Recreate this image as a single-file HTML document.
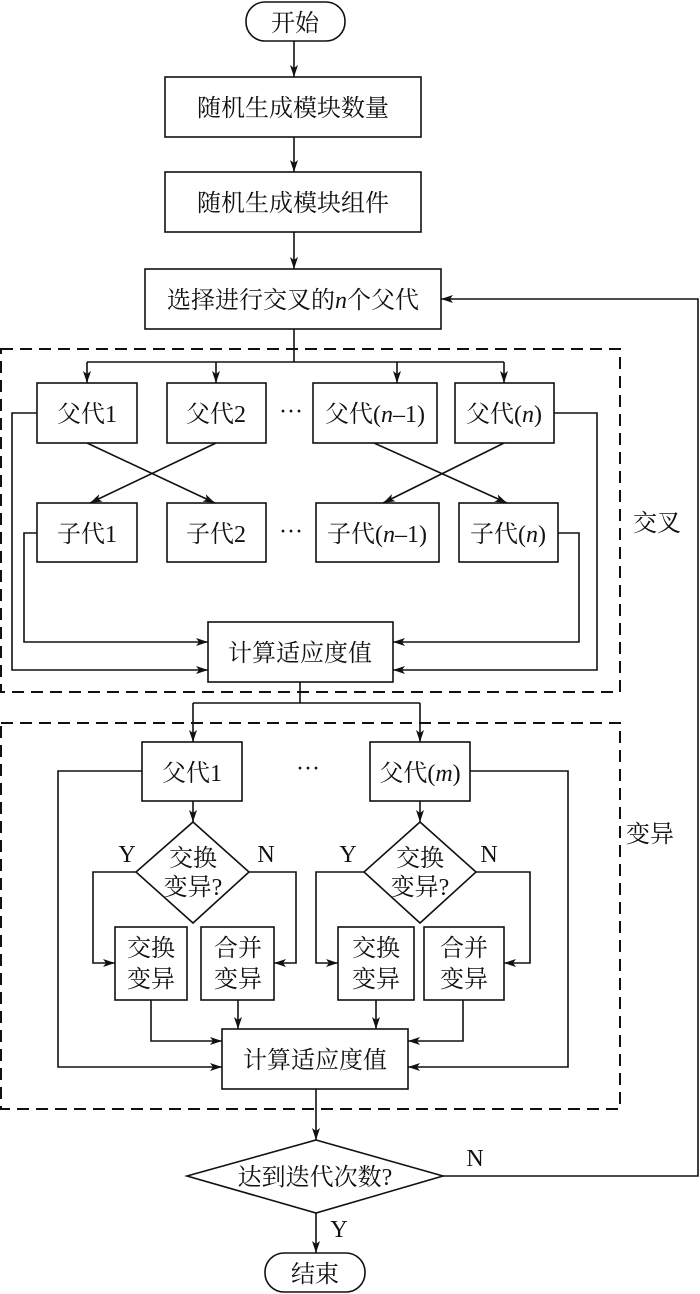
<!DOCTYPE html>
<html><head><meta charset="utf-8"><style>
html,body{margin:0;padding:0;background:#fff;}
svg{display:block;}
text{font-family:"Liberation Serif","Noto Serif CJK SC","Noto Sans CJK SC",serif;font-size:24px;fill:#111;}
</style></head><body>
<svg width="700" height="1294" viewBox="0 0 700 1294" xmlns="http://www.w3.org/2000/svg">
<defs>
<marker id="a" viewBox="0 0 12 8" refX="12" refY="4" markerWidth="12" markerHeight="8" markerUnits="userSpaceOnUse" orient="auto">
<path d="M0,0 L12,4 L0,8 L3,4 Z" fill="#111"/></marker>
</defs>
<g fill="none" stroke="#111" stroke-width="1.6">
<rect x="246" y="2" width="99" height="39" rx="19"/>
<rect x="165" y="77" width="256" height="60"/>
<rect x="165" y="172" width="256" height="60"/>
<rect x="145" y="269" width="296" height="60"/>
<path d="M294,41 V77" marker-end="url(#a)"/>
<path d="M294,137 V172" marker-end="url(#a)"/>
<path d="M294,232 V269" marker-end="url(#a)"/>
<rect x="1" y="349" width="619" height="343" stroke-dasharray="12,7" stroke-width="2"/>
<path d="M294,329 V362 M87,362 H504"/>
<path d="M87,362 V383" marker-end="url(#a)"/>
<path d="M216,362 V383" marker-end="url(#a)"/>
<path d="M397,362 V383" marker-end="url(#a)"/>
<path d="M504,362 V383" marker-end="url(#a)"/>
<rect x="37" y="383" width="100" height="60"/>
<rect x="167" y="383" width="99" height="60"/>
<rect x="313" y="383" width="124" height="60"/>
<rect x="455" y="383" width="99" height="60"/>
<rect x="37" y="503" width="100" height="59"/>
<rect x="167" y="503" width="99" height="59"/>
<rect x="316" y="503" width="123" height="59"/>
<rect x="459" y="503" width="99" height="59"/>
<path d="M87,443 L215,503" marker-end="url(#a)"/>
<path d="M216,443 L90,503" marker-end="url(#a)"/>
<path d="M374,443 L507,503" marker-end="url(#a)"/>
<path d="M504,443 L383,503" marker-end="url(#a)"/>
<rect x="208" y="622" width="185" height="60"/>
<path d="M37,413 H12 V670 H208" marker-end="url(#a)"/>
<path d="M37,533 H24 V642 H208" marker-end="url(#a)"/>
<path d="M554,413 H597 V670 H393" marker-end="url(#a)"/>
<path d="M558,533 H579 V642 H393" marker-end="url(#a)"/>
<path d="M300,682 V703 M193,703 H420"/>
<path d="M193,703 V742" marker-end="url(#a)"/>
<path d="M420,703 V742" marker-end="url(#a)"/>
<rect x="1" y="723" width="619" height="386" stroke-dasharray="12,7" stroke-width="2"/>
<rect x="142" y="742" width="100" height="59"/>
<rect x="370" y="742" width="100" height="59"/>
<path d="M193,801 V822" marker-end="url(#a)"/>
<path d="M420,801 V822" marker-end="url(#a)"/>
<path d="M193,822 L249,872 L193,923 L136,872 Z"/>
<path d="M420,822 L476,872 L420,923 L364,872 Z"/>
<rect x="115" y="927" width="72" height="73"/>
<rect x="201" y="927" width="73" height="73"/>
<rect x="338" y="927" width="76" height="73"/>
<rect x="424" y="927" width="80" height="73"/>
<path d="M136,872 H93 V963 H115" marker-end="url(#a)"/>
<path d="M249,872 H296 V963 H274" marker-end="url(#a)"/>
<path d="M364,872 H316 V963 H338" marker-end="url(#a)"/>
<path d="M476,872 H530 V963 H504" marker-end="url(#a)"/>
<rect x="222" y="1029" width="186" height="60"/>
<path d="M151,1000 V1041 H222" marker-end="url(#a)"/>
<path d="M238,1000 V1029" marker-end="url(#a)"/>
<path d="M376,1000 V1029" marker-end="url(#a)"/>
<path d="M463,1000 V1041 H408" marker-end="url(#a)"/>
<path d="M142,771 H58 V1067 H222" marker-end="url(#a)"/>
<path d="M470,771 H568 V1067 H408" marker-end="url(#a)"/>
<path d="M316,1089 V1140" marker-end="url(#a)"/>
<path d="M316,1140 L443,1176 L316,1213 L187,1176 Z"/>
<path d="M443,1176 H698 V299 H441" marker-end="url(#a)"/>
<path d="M316,1213 V1253" marker-end="url(#a)"/>
<rect x="265" y="1253" width="100" height="39" rx="19"/>
</g>
<g text-anchor="middle">
<text x="295" y="31">开始</text>
<text x="293" y="116">随机生成模块数量</text>
<text x="293" y="211">随机生成模块组件</text>
<text x="293" y="308">选择进行交叉的<tspan font-style="italic">n</tspan>个父代</text>
<text x="87" y="422">父代1</text>
<text x="216" y="422">父代2</text>
<text x="375" y="422">父代(<tspan font-style="italic">n</tspan>–1)</text>
<text x="504" y="422">父代(<tspan font-style="italic">n</tspan>)</text>
<text x="291" y="419">···</text>
<text x="87" y="542">子代1</text>
<text x="216" y="542">子代2</text>
<text x="377" y="542">子代(<tspan font-style="italic">n</tspan>–1)</text>
<text x="508" y="542">子代(<tspan font-style="italic">n</tspan>)</text>
<text x="291" y="539">···</text>
<text x="300" y="661">计算适应度值</text>
<text x="657" y="531">交叉</text>
<text x="192" y="781">父代1</text>
<text x="420" y="781">父代(<tspan font-style="italic">m</tspan>)</text>
<text x="308" y="776">···</text>
<text x="193" y="866">交换</text>
<text x="193" y="895">变异?</text>
<text x="420" y="866">交换</text>
<text x="420" y="895">变异?</text>
<text x="127" y="862">Y</text>
<text x="266" y="862">N</text>
<text x="348" y="862">Y</text>
<text x="489" y="862">N</text>
<text x="151" y="956">交换</text>
<text x="151" y="987">变异</text>
<text x="238" y="956">合并</text>
<text x="238" y="987">变异</text>
<text x="376" y="956">交换</text>
<text x="376" y="987">变异</text>
<text x="464" y="956">合并</text>
<text x="464" y="987">变异</text>
<text x="315" y="1068">计算适应度值</text>
<text x="650" y="842">变异</text>
<text x="315" y="1185">达到迭代次数?</text>
<text x="475" y="1166">N</text>
<text x="339" y="1237">Y</text>
<text x="315" y="1282">结束</text>
</g>
</svg>
</body></html>
